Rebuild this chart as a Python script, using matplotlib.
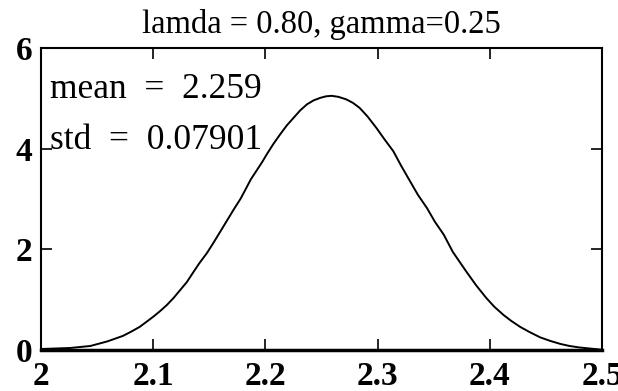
import matplotlib
matplotlib.use("Agg")
import matplotlib.pyplot as plt

# -------------------------
# Data
# -------------------------
x_vals = [2.000, 2.013, 2.026, 2.044, 2.059, 2.073, 2.080, 2.088, 2.094, 2.100,
          2.106, 2.112, 2.118, 2.124, 2.130, 2.135, 2.141, 2.148, 2.154, 2.160,
          2.166, 2.172, 2.178, 2.183, 2.187, 2.192, 2.197, 2.201, 2.207, 2.213,
          2.219, 2.225, 2.231, 2.237, 2.243, 2.249, 2.254, 2.259, 2.265, 2.272,
          2.278, 2.284, 2.291, 2.299, 2.306, 2.314, 2.321, 2.329, 2.336, 2.344,
          2.351, 2.359, 2.367, 2.379, 2.388, 2.397, 2.404, 2.412, 2.419, 2.427,
          2.436, 2.445, 2.454, 2.463, 2.471, 2.480, 2.489, 2.498, 2.500]
density = [0.02, 0.03, 0.04, 0.08, 0.17, 0.28, 0.36, 0.46, 0.56, 0.66,
           0.77, 0.89, 1.03, 1.19, 1.35, 1.52, 1.72, 1.93, 2.14, 2.36,
           2.58, 2.80, 3.01, 3.22, 3.39, 3.56, 3.73, 3.88, 4.09, 4.28,
           4.46, 4.61, 4.76, 4.88, 4.96, 5.01, 5.04, 5.05, 5.03, 4.98,
           4.91, 4.81, 4.64, 4.41, 4.19, 3.95, 3.66, 3.35, 3.08, 2.82,
           2.55, 2.29, 1.95, 1.56, 1.28, 1.03, 0.86, 0.70, 0.58, 0.46,
           0.35, 0.25, 0.18, 0.12, 0.08, 0.05, 0.03, 0.01, 0.00]

x_ticks = [2, 2.1, 2.2, 2.3, 2.4, 2.5]
x_labels = ["2", "2.1", "2.2", "2.3", "2.4", "2.5"]
y_ticks = [0, 2, 4, 6]
y_labels = ["0", "2", "4", "6"]

title = "lamda = 0.80, gamma=0.25"
notes = ["mean  =  2.259", "std  =  0.07901"]
note_y = [5.0, 4.0]

plt.rcParams["font.family"] = ["Liberation Serif", "DejaVu Serif"]

fig = plt.figure(figsize=(6.18, 3.91), dpi=100)
ax = fig.add_axes([41 / 618, 1 - 350 / 391, (602 - 41) / 618, (350 - 48) / 391])

ax.plot(x_vals, density, color="black", linewidth=1.4)

ax.set_xlim(2, 2.5)
ax.set_ylim(0, 6)
ax.set_xticks(x_ticks)
ax.set_xticklabels(x_labels, fontsize=24, fontweight="bold")
ax.set_yticks(y_ticks)
ax.set_yticklabels(y_labels, fontsize=24, fontweight="bold")
ax.tick_params(direction="in", length=8, width=1.2, top=True, right=True)
ax.tick_params(axis="x", pad=8)
ax.tick_params(axis="y", pad=6)
for s in ax.spines.values():
    s.set_linewidth(1.5)
ax.spines["bottom"].set_linewidth(2.5)

for txt, yy in zip(notes, note_y):
    ax.text(2.008, yy, txt, fontsize=25.5, va="baseline", ha="left")

ax.set_title(title, fontsize=23.5, pad=11)

fig.savefig("out.png", dpi=100)
